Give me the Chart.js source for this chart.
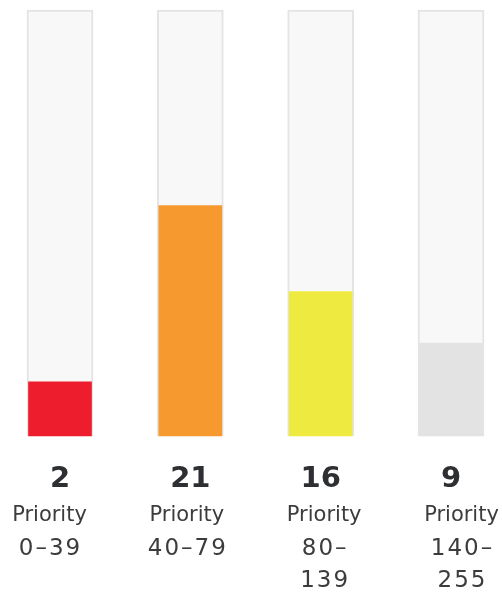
<!DOCTYPE html>
<html>
<head>
	<meta http-equiv="Content-Type" content="text/html; charset=utf-8"/>
	<script type="text/javascript" src="https://cdn.jsdelivr.net/npm/chart.js@4.4.1/dist/chart.umd.min.js"></script>
	<style type="text/css">
		html, body { margin: 0; padding: 0; background: #ffffff; }
		#wrap { width: 502px; height: 593px; position: relative; }
	</style>
</head>
<body>
	<div id="wrap">
		<canvas id="chart"></canvas>
	</div>
	<script type="text/javascript">
		// priority buckets
		var categories = ["0-39", "40-79", "80-139", "140-255"];
		var counts = [2, 21, 16, 9];
		// fill level of each gauge, percent of the track
		var levels = [12.7, 54.1, 33.9, 21.8];
		var trackFull = [100, 100, 100, 100];
		// text under each gauge
		var titleLine = "Priority";
		var rangeLines = [["0–39"], ["40–79"], ["80–", "139"], ["140–", "255"]];
		var fillColors = ["#ee1d2e", "#f69a30", "#efea40", "#e3e3e3"];

		// writes count, caption and range under every gauge
		var gaugeText = {
			id: "gaugeText",
			afterDraw: function (chart) {
				var ctx = chart.ctx;
				var xs = chart.scales.x;
				ctx.save();
				ctx.textAlign = "center";
				ctx.textBaseline = "alphabetic";
				for (var i = 0; i < categories.length; i++) {
					var cx = xs.getPixelForValue(i);
					var lx = cx + (i - 1.5) * 7;
					ctx.fillStyle = "#2d2f33";
					ctx.font = "bold 29px 'DejaVu Sans'";
					ctx.letterSpacing = "0px";
					ctx.fillText(String(counts[i]), cx, 487);
					ctx.fillStyle = "#3c3c3c";
					ctx.font = "21px 'DejaVu Sans'";
					ctx.fillText(titleLine, lx, 521);
					ctx.font = "23px 'DejaVu Sans'";
					ctx.letterSpacing = "2px";
					for (var j = 0; j < rangeLines[i].length; j++) {
						ctx.fillText(rangeLines[i][j], lx + 1, 555 + j * 32);
					}
				}
				ctx.restore();
			}
		};

		var canvas = document.getElementById("chart").getContext("2d");
		window.bar = new Chart(canvas, {
			type: "bar",
			data: {
				labels: categories,
				datasets: [{
					label: "level",
					data: levels,
					backgroundColor: fillColors,
					borderWidth: 0,
					barThickness: 63,
					order: 0,
					clip: false
				}, {
					label: "track",
					data: trackFull,
					backgroundColor: "#f8f8f8",
					borderColor: "#e4e4e4",
					borderWidth: 2,
					borderSkipped: false,
					barThickness: 66,
					order: 1,
					clip: false
				}]
			},
			options: {
				responsive: true,
				maintainAspectRatio: false,
				animation: false,
				grouped: false,
				layout: {
					padding: { top: 10, bottom: 157, left: 60, right: 51 }
				},
				plugins: {
					legend: { display: false },
					tooltip: { enabled: false }
				},
				scales: {
					x: { display: false, offset: false },
					y: { display: false, min: 0, max: 100 }
				}
			},
			plugins: [gaugeText]
		});
	</script>
</body>
</html>
